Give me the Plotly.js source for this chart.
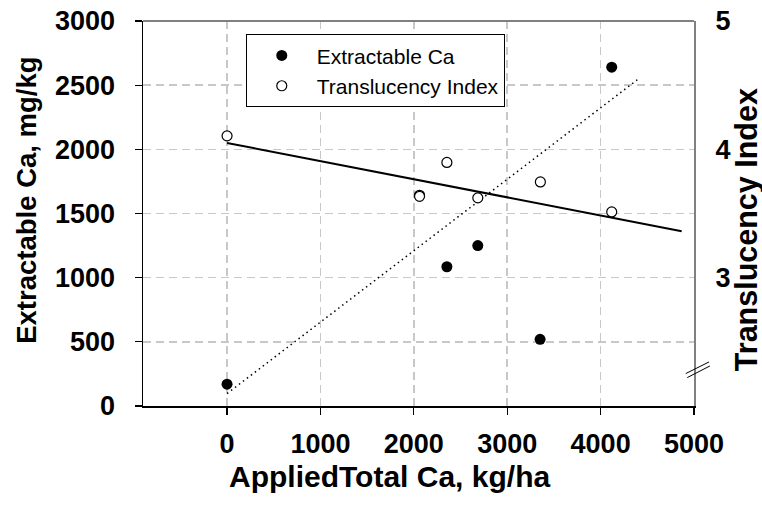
<!DOCTYPE html>
<html>
<head>
<meta charset="utf-8">
<script src="https://cdn.plot.ly/plotly-3.0.1.min.js"></script>
<style>html,body{margin:0;padding:0;background:#fff;}#chart{width:762px;height:509px;}</style>
</head>
<body>
<div id="chart"></div>
<script>
// Extractable Ca (mg/kg) vs applied total Ca (kg/ha)
var appliedCa = [0, 2354, 2685, 3352, 4119];
var extractCa = [170, 1085, 1250, 520, 2640];
// Translucency index vs applied total Ca
var tiApplied = [0, 2061, 2061, 2354, 2685, 3355, 4119];
var tiValues = [4.105, 3.642, 3.634, 3.898, 3.622, 3.746, 3.512];
// fitted lines (end points of the fits)
var extractFitX = [0, 4411];
var extractFitY = [97, 2552];
var tiFitX = [0, 4868];
var tiFitY = [4.05, 3.362];
// tick labels
var xTicks = [0, 1000, 2000, 3000, 4000, 5000];
var yTicks = [0, 500, 1000, 1500, 2000, 2500, 3000];
var y2Ticks = [3, 4, 5];
// axis titles
var xTitle = 'AppliedTotal Ca, kg/ha';
var yTitle = 'Extractable Ca, mg/kg';
var y2Title = 'Translucency Index';

var FONT = '"Liberation Sans", Arial, sans-serif';
var tickFont = {family: FONT, size: 27, color: '#000', weight: 'bold'};
function tf(sz) { return {family: FONT, size: sz, color: '#000', weight: 'bold'}; }
var gridCol = '#c8c8c8';

var traces = [
  {x: extractFitX, y: extractFitY, mode: 'lines', yaxis: 'y', showlegend: false, hoverinfo: 'skip',
   line: {color: '#000', width: 1.5, dash: '1.5px,3.5px'}},
  {x: tiFitX, y: tiFitY, mode: 'lines', yaxis: 'y2', showlegend: false, hoverinfo: 'skip',
   line: {color: '#000', width: 2}},
  {x: appliedCa, y: extractCa, mode: 'markers', name: 'Extractable Ca', yaxis: 'y',
   marker: {symbol: 'circle', size: 11, color: '#000', line: {color: '#000', width: 0}}},
  {x: tiApplied, y: tiValues, mode: 'markers', name: 'Translucency Index', yaxis: 'y2',
   marker: {symbol: 'circle', size: 10, color: '#fff', line: {color: '#000', width: 1.2}}}
];

var layout = {
  width: 762, height: 509,
  margin: {l: 143, r: 68, t: 21, b: 103, pad: 0},
  paper_bgcolor: '#fff', plot_bgcolor: '#fff',
  showlegend: true,
  font: {family: FONT, color: '#000'},
  xaxis: {
    range: [-900, 5000], tickvals: xTicks, ticktext: xTicks.map(String),
    showgrid: true, gridcolor: gridCol, gridwidth: 1.5, griddash: '8px,5px',
    zeroline: false, showline: true, linecolor: '#000', linewidth: 1.5,
    ticks: 'outside', ticklen: 7, tickcolor: '#000', tickwidth: 1.2,
    tickfont: tickFont, ticklabelstandoff: 6
  },
  yaxis: {
    range: [0, 3000], tickvals: yTicks, ticktext: yTicks.map(String),
    showgrid: true, gridcolor: gridCol, gridwidth: 1.5, griddash: '8px,5px',
    zeroline: false, showline: true, linecolor: '#000', linewidth: 1.5,
    ticks: 'outside', ticklen: 7, tickcolor: '#000', tickwidth: 1.2,
    tickfont: tickFont, ticklabelstandoff: 14
  },
  yaxis2: {
    overlaying: 'y', side: 'right',
    range: [2, 5], tickvals: y2Ticks, ticktext: y2Ticks.map(String),
    showgrid: false, zeroline: false, showline: true, linecolor: '#808080', linewidth: 2,
    ticks: '', tickfont: tickFont, ticklabelstandoff: 14
  },
  legend: {
    x: 0.1865, y: 0.9654, xanchor: 'left', yanchor: 'top',
    bgcolor: '#fff', bordercolor: '#000', borderwidth: 1,
    font: {family: FONT, size: 21, color: '#000'}, itemwidth: 60
  },
  annotations: [
    {text: xTitle, xref: 'paper', yref: 'paper', x: 0.448, y: -0.1827, xanchor: 'center', yanchor: 'middle',
     showarrow: false, font: tf(30)},
    {text: yTitle, xref: 'paper', yref: 'paper', x: -0.2112, y: 0.5347, xanchor: 'center', yanchor: 'middle',
     textangle: -90, showarrow: false, font: tf(27.5)},
    {text: y2Title, xref: 'paper', yref: 'paper', x: 1.0944, y: 0.4567, xanchor: 'center', yanchor: 'middle',
     textangle: -90, showarrow: false, font: tf(30.5)}
  ],
  shapes: [
    {type: 'line', xref: 'paper', yref: 'paper', x0: 0, x1: 1, y0: 1, y1: 1,
     line: {color: '#808080', width: 2}},
    {type: 'line', xref: 'paper', yref: 'paper', x0: 0.985, y0: 0.0842, x1: 1.0273, y1: 0.1144,
     line: {color: '#000', width: 1}},
    {type: 'line', xref: 'paper', yref: 'paper', x0: 0.9878, y0: 0.0738, x1: 1.0289, y1: 0.104,
     line: {color: '#000', width: 1}}
  ]
};

Plotly.newPlot('chart', traces, layout, {displayModeBar: false, staticPlot: true});
</script>
</body>
</html>
